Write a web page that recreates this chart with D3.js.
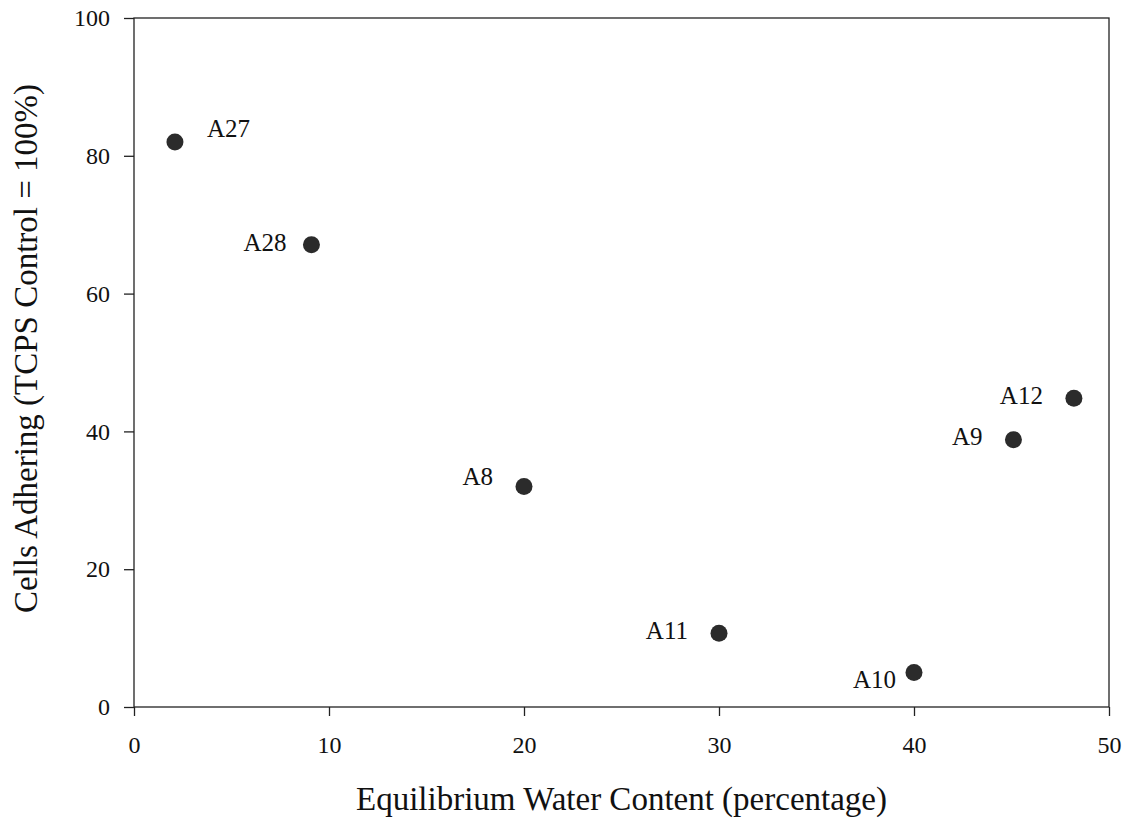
<!DOCTYPE html>
<html>
<head>
<meta charset="utf-8">
<script src="https://cdn.jsdelivr.net/npm/d3@7"></script>
<style>
  body { margin: 0; background: #fff; }
  text { font-family: "Liberation Serif", "Times New Roman", serif; fill: #111; }
</style>
</head>
<body>
<div id="chart"></div>
<script>
// data
var names   = ["A27", "A28", "A8", "A11", "A10", "A9", "A12"];
var water   = [2.1, 9.1, 20.0, 30.0, 40.0, 45.1, 48.2];
var cells   = [82.0, 67.1, 32.0, 10.7, 5.0, 38.8, 44.8];
var xTicks  = [0, 10, 20, 30, 40, 50];
var yTicks  = [0, 20, 40, 60, 80, 100];

var W = 1141, H = 822;
var margin = {top: 18, right: 32, bottom: 115, left: 134};
var width = W - margin.left - margin.right,
    height = H - margin.top - margin.bottom;

// label placement relative to each point (pixels)
var labelOffset = {
  A27: [32, -5, "start"],
  A28: [-25, 6, "end"],
  A8:  [-31, -2, "end"],
  A11: [-31, 6, "end"],
  A10: [-18, 15, "end"],
  A9:  [-31, 5, "end"],
  A12: [-31, 6, "end"]
};

var svg = d3.select("#chart")
  .append("svg")
    .attr("width", W)
    .attr("height", H)
  .append("g")
    .attr("transform", "translate(" + margin.left + "," + margin.top + ")");

var x = d3.scaleLinear().domain([0, 50]).range([0, width]);
var y = d3.scaleLinear().domain([0, 100]).range([height, 0]);

// frame
svg.append("rect")
  .attr("width", width)
  .attr("height", height)
  .attr("fill", "none")
  .attr("stroke", "#222")
  .attr("stroke-width", 1.3);

// X axis
var gx = svg.append("g")
  .attr("transform", "translate(0," + height + ")")
  .call(d3.axisBottom(x).tickValues(xTicks).tickSize(9).tickPadding(20));
gx.select(".domain").remove();
gx.selectAll("line").attr("stroke", "#222").attr("stroke-width", 1.3);
gx.selectAll("text").style("font-size", "24px").style("font-family", "Liberation Serif");

// Y axis
var gy = svg.append("g")
  .call(d3.axisLeft(y).tickValues(yTicks).tickSize(10).tickPadding(14));
gy.select(".domain").remove();
gy.selectAll("line").attr("stroke", "#222").attr("stroke-width", 1.3);
gy.selectAll("text").style("font-size", "24px").style("font-family", "Liberation Serif");

// axis titles
svg.append("text")
  .attr("x", width / 2 + 0)
  .attr("y", height + 103)
  .attr("text-anchor", "middle")
  .style("font-size", "33px")
  .text("Equilibrium Water Content (percentage)");

svg.append("text")
  .attr("transform", "translate(" + (-97) + "," + (height / 2 - 14) + ")rotate(-90)")
  .attr("text-anchor", "middle")
  .style("font-size", "33px")
  .text("Cells Adhering (TCPS Control = 100%)");

// points
var data = names.map(function(n, i) {
  return {name: n, x: water[i], y: cells[i]};
});

svg.selectAll("circle.pt")
  .data(data)
  .enter()
  .append("circle")
    .attr("class", "pt")
    .attr("cx", function(d) { return x(d.x); })
    .attr("cy", function(d) { return y(d.y); })
    .attr("r", 8.5)
    .attr("fill", "#2b2b2b");

svg.selectAll("text.lbl")
  .data(data)
  .enter()
  .append("text")
    .attr("class", "lbl")
    .attr("x", function(d) { return x(d.x) + labelOffset[d.name][0]; })
    .attr("y", function(d) { return y(d.y) + labelOffset[d.name][1]; })
    .attr("text-anchor", function(d) { return labelOffset[d.name][2]; })
    .style("font-size", "25px")
    .text(function(d) { return d.name; });
</script>
</body>
</html>
